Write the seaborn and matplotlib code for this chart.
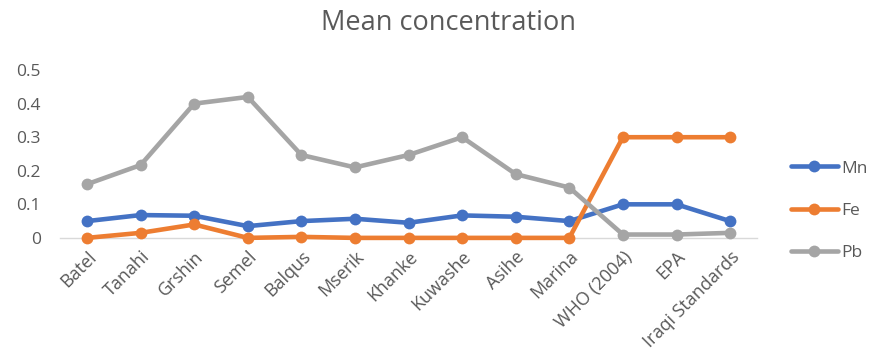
import matplotlib
matplotlib.use("Agg")
import matplotlib.pyplot as plt
import seaborn as sns
import pandas as pd
import numpy as np

categories = ["Batel", "Tanahi", "Grshin", "Semel", "Balqus", "Mserik", "Khanke",
              "Kuwashe", "Asihe", "Marina", "WHO (2004)", "EPA", "Iraqi Standards"]
mn = [0.050, 0.068, 0.066, 0.035, 0.050, 0.057, 0.045, 0.067, 0.063, 0.050, 0.100, 0.100, 0.050]
fe = [0.000, 0.015, 0.040, 0.000, 0.003, 0.000, 0.000, 0.000, 0.000, 0.000, 0.300, 0.300, 0.300]
pb = [0.160, 0.217, 0.400, 0.420, 0.247, 0.210, 0.247, 0.300, 0.190, 0.150, 0.010, 0.010, 0.015]
series_names = ["Mn", "Fe", "Pb"]
colors = ["#4472C4", "#ED7D31", "#A5A5A5"]
yticks = [0, 0.1, 0.2, 0.3, 0.4, 0.5]
ytick_labels = ["0", "0.1", "0.2", "0.3", "0.4", "0.5"]

sns.set_theme(style="white")
plt.rcParams["font.family"] = ["Open Sans", "DejaVu Sans"]

rows = []
for name, vals in zip(series_names, [mn, fe, pb]):
    for i, (c, v) in enumerate(zip(categories, vals)):
        rows.append({"pos": i, "site": c, "element": name, "value": v})
df = pd.DataFrame(rows)

fig = plt.figure(figsize=(8.73, 3.54), dpi=100)
ax = fig.add_axes([0.069, 0.328, 0.798, 0.474])

sns.lineplot(data=df, x="pos", y="value", hue="element", hue_order=series_names,
             palette=colors, marker="o", markersize=8.5, markeredgewidth=0,
             linewidth=3.3, sort=False, ax=ax, clip_on=False)

ax.set_xlim(-0.5, len(categories) - 0.5)
ax.set_ylim(0, 0.5)
ax.set_xticks(range(len(categories)))
ax.set_xticklabels(categories, rotation=45, ha="right", rotation_mode="anchor",
                   fontsize=13, color="#595959")
ax.set_yticks(yticks)
ax.set_yticklabels(ytick_labels, fontsize=12.5, color="#595959")
ax.tick_params(axis="both", length=0, pad=7)
ax.tick_params(axis="y", pad=14)
ax.set_xlabel("")
ax.set_ylabel("")
for s in ["top", "right", "left"]:
    ax.spines[s].set_visible(False)
ax.spines["bottom"].set_color("#D9D9D9")
ax.spines["bottom"].set_linewidth(1)
ax.spines["bottom"].set_zorder(0)

fig.suptitle("Mean concentration", x=0.514, y=0.975, fontsize=19.5, color="#595959")

handles, labels = ax.get_legend_handles_labels()
leg = ax.legend(handles, labels, loc="center left", bbox_to_anchor=(0.888, 0.405),
                bbox_transform=fig.transFigure, frameon=False, fontsize=12.5,
                handlelength=2.7, labelspacing=1.5, handletextpad=0.2)
for t in leg.get_texts():
    t.set_color("#595959")

fig.savefig("out.png", dpi=100)
